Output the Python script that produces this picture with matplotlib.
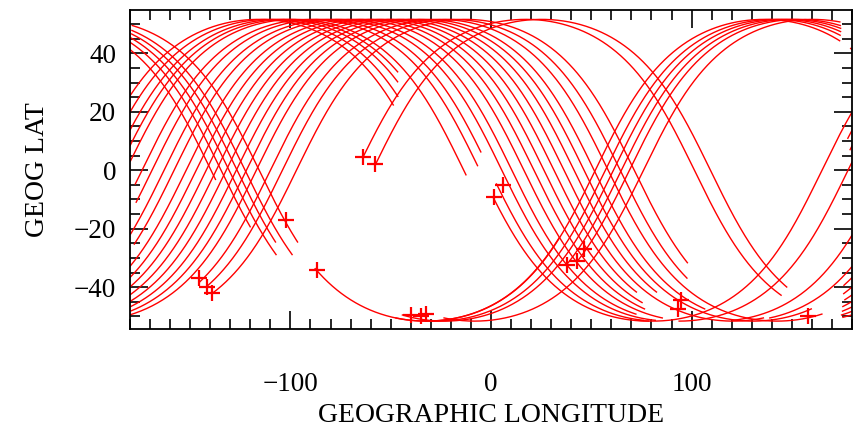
import numpy as np
import matplotlib
matplotlib.use('Agg')
import matplotlib.pyplot as plt
from matplotlib.ticker import MultipleLocator

# orbit: inclination and westward shift per orbit (deg)
inc = 51.6
shift = 23.2

# track segments: ascending node longitude, start / end argument of latitude (deg)
node_lon = [-200, -195, -190, -186, -182, -174, -169, -163, -158, -152,
            -147, -142, -137, -132, -127, -122, -117, -110, -104, -97,
            -174, -169, -67, -59,
            52, 57, 61, 65, 69, 76,
            52, 57, 61, 65, 69, 76, 75]
u_start = [33, -95, 14, 9, -90, -6, -14, -85, -33, -80,
           -54, -59, -63, -68, -72, -76, -79, -52, -55, -59,
           192, 186, 6, 3,
           -100, -95, -104, -43, -41, -100,
           122, 118, 115, 112, 109, 104, 225]
u_end = [151, 147, 140, 135, 182, 178, 172, 265, 255, 260,
         250, 245, 238, 280, 238, 290, 250, 285, 230, 222,
         270, 265, 240, 235,
         117, 113, 110, 107, 104, 99,
         184, 205, 218, 212, 218, 212, 330]

# '+' markers
mark_lon = [-64, -58, -102, -87, -145.7, -141.7, -139, -40, -35, -32.5,
            1.4, 5.8, 38, 43, 46.5, 93, 94.5, 158]
mark_lat = [4.6, 2, -17, -34, -37, -40, -42, -49.5, -50, -49,
            -9.3, -5, -32.5, -31, -27, -47.5, -44.5, -50]


def track(node, u0, u1):
    u = np.radians(np.linspace(u0, u1, 600))
    i = np.radians(inc)
    lat = np.degrees(np.arcsin(np.sin(i) * np.sin(u)))
    a = np.unwrap(np.arctan2(np.cos(i) * np.sin(u), np.cos(u)))
    lon = node + np.degrees(a) - shift / 360.0 * np.degrees(u)
    lon = (lon + 180) % 360 - 180
    jump = np.where(np.abs(np.diff(lon)) > 180)[0]
    lon = np.insert(lon, jump + 1, np.nan)
    lat = np.insert(lat, jump + 1, np.nan)
    return lon, lat


plt.rcParams['font.family'] = ['Liberation Serif', 'DejaVu Serif']

fig = plt.figure(figsize=(8.63, 4.28), dpi=100)
ax = fig.add_axes([0.1506, 0.2313, 0.8367, 0.7453])

for k in range(len(node_lon)):
    x, y = track(node_lon[k], u_start[k], u_end[k])
    ax.plot(x, y, color='red', lw=1.0)

ax.plot(mark_lon, mark_lat, '+', color='red', ms=12, mew=1.6, ls='none')

ax.set_xlim(-180, 180)
ax.set_ylim(-54.3, 54.8)
ax.xaxis.set_major_locator(MultipleLocator(100))
ax.xaxis.set_minor_locator(MultipleLocator(10))
ax.yaxis.set_major_locator(MultipleLocator(20))
ax.yaxis.set_minor_locator(MultipleLocator(5))
ax.tick_params(which='both', direction='in', top=True, right=True, width=1.2)
ax.tick_params(which='major', length=13)
ax.tick_params(which='minor', length=7)
ax.tick_params(axis='x', which='major', pad=31, labelsize=19.5)
ax.tick_params(axis='y', which='major', pad=10, labelsize=19.5)
ax.set_xticks([-100, 0, 100])
ax.set_xticklabels(['\u2212100', '0', '100'])
ax.set_yticks([-40, -20, 0, 20, 40])
ax.set_yticklabels(['\u221240', '\u221220', '0', '20', '40'])
for s in ax.spines.values():
    s.set_linewidth(1.3)

ax.set_xlabel('GEOGRAPHIC LONGITUDE', fontsize=20, labelpad=4)
ax.set_ylabel('GEOG LAT', fontsize=20, labelpad=17)

fig.savefig('out.png', dpi=100)
